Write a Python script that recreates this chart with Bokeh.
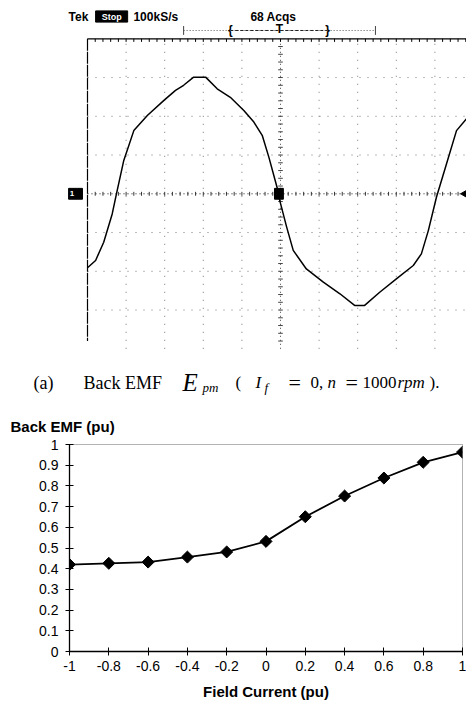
import numpy as np
from bokeh.plotting import figure
from bokeh.models import Range1d, FixedTicker, PrintfTickFormatter
from bokeh.layouts import column
from bokeh.embed import file_html
from bokeh.resources import INLINE
from bokeh.core.properties import value

# ---------------- data ----------------
# (a) oscilloscope trace, in screen divisions (time 0..10 div, voltage -4..4 div)
wave_t = [0.00, 0.21, 0.42, 0.64, 0.75, 0.94, 1.20, 1.55, 1.98, 2.28, 2.49, 2.75,
          3.06, 3.36, 3.70, 4.05, 4.31, 4.53, 4.70, 4.91, 4.98, 5.16, 5.33, 5.67,
          6.11, 6.54, 6.92, 7.18, 7.57, 8.01, 8.44, 8.65, 8.83, 9.04, 9.30, 9.56, 9.82]
wave_v = [-1.91, -1.72, -1.25, -0.52, 0.00, 0.86, 1.63, 2.02, 2.41, 2.67, 2.80, 3.01,
          3.01, 2.71, 2.49, 2.15, 1.85, 1.50, 0.94, 0.17, -0.17, -0.86, -1.46, -1.94,
          -2.28, -2.58, -2.88, -2.88, -2.54, -2.19, -1.85, -1.55, -0.95, -0.09, 0.77, 1.63, 1.94]

# (b) back EMF vs field current
field_current = [-1, -0.8, -0.6, -0.4, -0.2, 0, 0.2, 0.4, 0.6, 0.8, 1]
back_emf = [0.42, 0.426, 0.432, 0.456, 0.481, 0.532, 0.651, 0.751, 0.838, 0.914, 0.963]

x_ticks = [-1, -0.8, -0.6, -0.4, -0.2, 0, 0.2, 0.4, 0.6, 0.8, 1]
x_tick_labels = ["-1", "-0.8", "-0.6", "-0.4", "-0.2", "0", "0.2", "0.4", "0.6", "0.8", "1"]
y_ticks = [0, 0.1, 0.2, 0.3, 0.4, 0.5, 0.6, 0.7, 0.8, 0.9, 1]
y_tick_labels = ["0", "0.1", "0.2", "0.3", "0.4", "0.5", "0.6", "0.7", "0.8", "0.9", "1"]

SANS = value("Liberation Sans")
SERIF = value("Liberation Serif")
NOB = dict(min_border=0, min_border_left=0, min_border_right=0, min_border_top=0,
           min_border_bottom=0, frame_align=False, x_axis_location=None, y_axis_location=None)

# ---------------- scope panel ----------------
scope = figure(width=466, height=356, x_range=Range1d(-2.254, 9.819),
               y_range=Range1d(-4.199, 4.988), output_backend="svg",
               toolbar_location=None, **NOB)
scope.grid.visible = False
scope.outline_line_color = None

grid_x = [1, 2, 3, 4, 6, 7, 8, 9]
grid_y = [-3, -2, -1, 1, 2, 3]
scope.multi_line([[gx, gx] for gx in grid_x], [[-4, 4]] * len(grid_x),
                 line_color="#777777", line_width=1, line_dash="1 7")
scope.multi_line([[0, 10]] * len(grid_y), [[gy, gy] for gy in grid_y],
                 line_color="#777777", line_width=1, line_dash="1 7")
# centre cross-hair with minor ticks
scope.line([0, 10], [0, 0], line_color="#222222", line_width=1, line_dash="1 3")
scope.line([5, 5], [-4, 4], line_color="#444444", line_width=1, line_dash="1 3")
minor = [i * 0.2 for i in range(1, 50)]
scope.segment(x0=minor, y0=[-0.05] * len(minor), x1=minor, y1=[0.05] * len(minor),
              line_color="#333333", line_width=1)
minor_v = [i * 0.2 - 4 for i in range(1, 40)]
scope.segment(x0=[4.94] * len(minor_v), y0=minor_v, x1=[5.06] * len(minor_v), y1=minor_v,
              line_color="#444444", line_width=1)
# graticule edges: top and left
scope.line([0, 10], [4, 4], line_color="black", line_width=1.3)
scope.line([0, 0], [4, -3.8], line_color="black", line_width=1.2, line_dash="12 1")
scope.segment(x0=minor, y0=[4] * len(minor), x1=minor, y1=[3.92] * len(minor),
              line_color="black", line_width=1)

# waveform
scope.line(wave_t, wave_v, line_color="black", line_width=1.5)

# channel / trigger markers
scope.rect(x=[-0.31], y=[0], width=0.36, height=0.28, fill_color="black", line_color="black")
scope.text(x=[-0.40], y=[0], text=["1"], text_color="white", text_font=SANS,
           text_font_size="8px", text_font_style="bold", text_baseline="middle", text_align="center")
scope.rect(x=[4.96], y=[0], width=0.23, height=0.28, fill_color="black", line_color="black")
scope.scatter(x=[9.80], y=[0], marker="triangle", angle=np.pi / 2, size=9,
              fill_color="black", line_color="black")

# header
scope.text(x=[-0.49], y=[4.575], text=["Tek"], text_font=SANS, text_font_size="12px",
           text_font_style="bold", text_baseline="middle", text_align="left")
scope.rect(x=[0.625], y=[4.575], width=0.83, height=0.29, fill_color="black", line_color="black")
scope.text(x=[0.625], y=[4.575], text=["Stop"], text_color="white", text_font=SANS,
           text_font_size="9px", text_font_style="bold", text_baseline="middle", text_align="center")
scope.text(x=[1.19, 4.22], y=[4.575, 4.575], text=["100kS/s", "68 Acqs"], text_font=SANS,
           text_font_size="12px", text_font_style="bold", text_baseline="middle", text_align="left")
# record / trigger bar
scope.line([2.49, 7.46], [4.214, 4.214], line_color="#555555", line_width=1, line_dash="1 2")
scope.line([3.70, 6.22], [4.214, 4.214], line_color="#222222", line_width=1, line_dash="3 2")
scope.segment(x0=[2.49, 7.46], y0=[4.10, 4.10], x1=[2.49, 7.46], y1=[4.33, 4.33],
              line_color="#444444", line_width=1)
scope.text(x=[3.70, 4.97, 6.22], y=[4.214, 4.25, 4.214], text=["{", "T", "}"], text_font=SANS,
           text_font_size="12px", text_font_style="bold", text_baseline="middle", text_align="center")

# ---------------- caption panel ----------------
cap = figure(width=466, height=80, x_range=Range1d(0, 466), y_range=Range1d(80, 0),
             output_backend="svg", toolbar_location=None, **NOB)
cap.grid.visible = False
cap.outline_line_color = None

cap.text(x=[33, 83], y=[26, 26], text=["(a)", "Back EMF"], text_font=SERIF,
         text_font_size="18px", text_baseline="alphabetic", text_align="left")
cap.text(x=[235, 310, 362, 429], y=[26] * 4,
         text=["(", "0,", "1000", ")."], text_font=SERIF,
         text_font_size="17px", text_baseline="alphabetic", text_align="left")
cap.text(x=[288, 345], y=[26, 26], text=["=", "="], text_font=SERIF,
         text_font_size="22px", text_baseline="alphabetic", text_align="left")
cap.text(x=[182], y=[26], text=["E"], text_font=SERIF, text_font_size="25px",
         text_font_style="italic", text_baseline="alphabetic", text_align="left")
cap.text(x=[202, 264], y=[31, 31], text=["pm", "f"], text_font=SERIF, text_font_size="13px",
         text_font_style="italic", text_baseline="alphabetic", text_align="left")
cap.text(x=[255, 327, 397], y=[26, 26, 26], text=["I", "n", "rpm"], text_font=SERIF,
         text_font_size="17px", text_font_style="italic", text_baseline="alphabetic", text_align="left")
cap.text(x=[10], y=[70], text=["Back EMF (pu)"], text_font=SANS, text_font_size="15px",
         text_font_style="bold", text_baseline="middle", text_align="left")

# ---------------- chart panel ----------------
p = figure(width=466, height=269, x_range=Range1d(-1, 1), y_range=Range1d(0, 1),
           output_backend="svg", toolbar_location=None, frame_align=False,
           min_border_left=69, min_border_right=4, min_border_top=8, min_border_bottom=54)
p.grid.visible = False
p.outline_line_color = "#666666"
p.outline_line_dash = "1 1"
p.outline_line_width = 1

p.xaxis.ticker = FixedTicker(ticks=x_ticks)
p.yaxis.ticker = FixedTicker(ticks=y_ticks)
p.xaxis.formatter = PrintfTickFormatter(format="%g")
p.yaxis.formatter = PrintfTickFormatter(format="%g")
p.xaxis.major_label_overrides = dict(zip(x_ticks, x_tick_labels))
p.yaxis.major_label_overrides = dict(zip(y_ticks, y_tick_labels))
for ax in (p.xaxis[0], p.yaxis[0]):
    ax.axis_line_color = "black"
    ax.axis_line_width = 1.3
    ax.major_tick_in = 4
    ax.major_tick_out = 4
    ax.minor_tick_in = 0
    ax.minor_tick_out = 0
    ax.major_tick_line_color = "black"
    ax.major_label_text_font = "Liberation Sans"
    ax.major_label_text_font_size = "14px"
    ax.major_label_text_color = "black"
p.yaxis.major_label_standoff = 7
p.xaxis.major_label_standoff = 5
p.xaxis.axis_label = "Field Current (pu)"
p.xaxis.axis_label_text_font = "Liberation Sans"
p.xaxis.axis_label_text_font_style = "bold"
p.xaxis.axis_label_text_font_size = "15px"
p.xaxis.axis_label_text_color = "black"
p.xaxis.axis_label_standoff = 9

p.line(field_current, back_emf, line_color="black", line_width=1.8)
p.scatter(field_current, back_emf, marker="square", angle=np.pi / 4, size=8.5,
          fill_color="black", line_color="black")

layout = column(scope, cap, p)
open("out.html", "w").write(file_html(layout, INLINE))
